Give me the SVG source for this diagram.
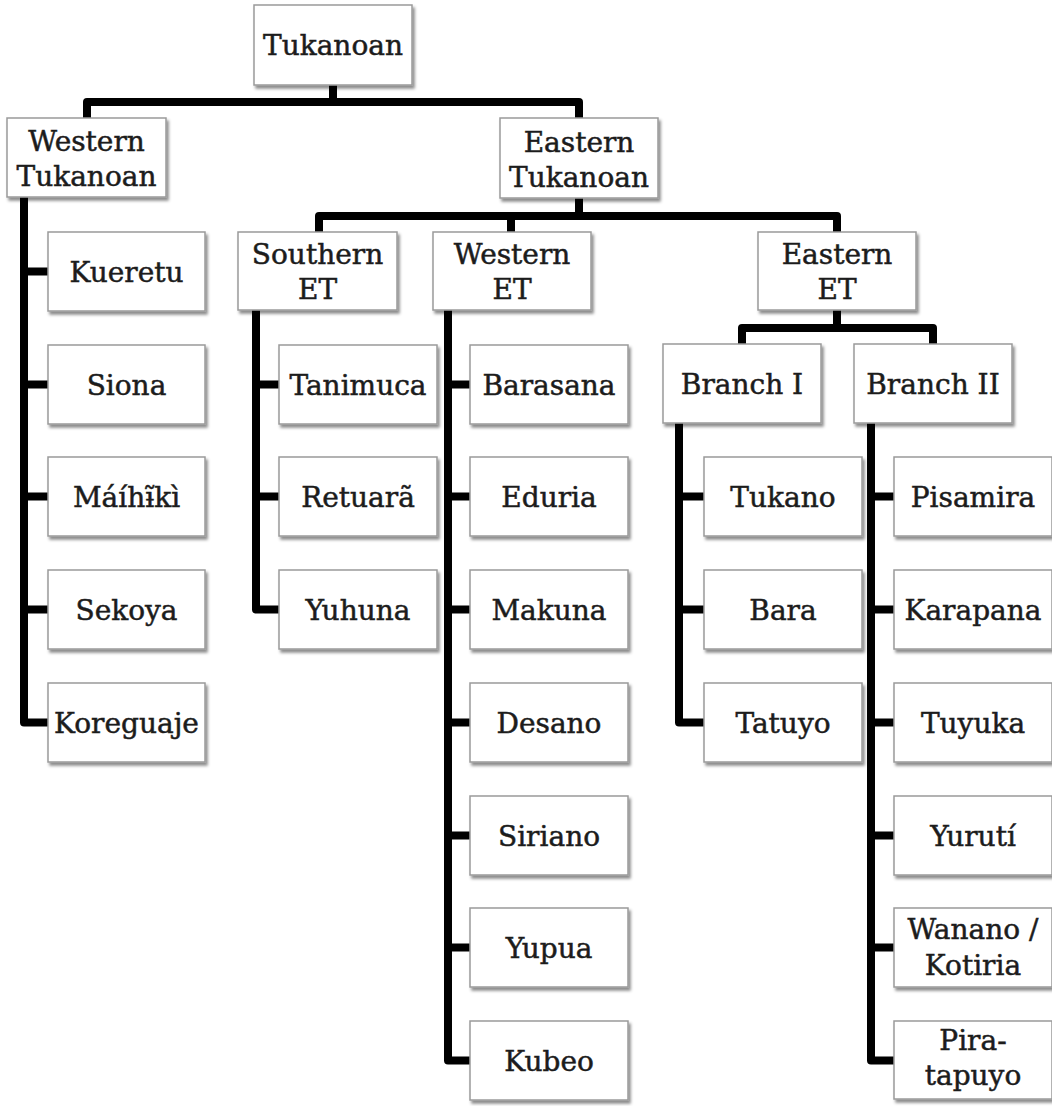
<svg xmlns="http://www.w3.org/2000/svg" width="1052" height="1106" viewBox="0 0 1052 1106">
<defs>
<filter id="sh" x="-10%" y="-10%" width="125%" height="130%">
<feDropShadow dx="2" dy="3" stdDeviation="1.8" flood-color="#000" flood-opacity="0.45"/>
</filter>
<style>
.box{fill:#fff;stroke:#9a9a9a;stroke-width:1.5;filter:url(#sh)}
.t{font-family:"DejaVu Serif","Liberation Serif",serif;font-size:28px;fill:#1c1c1c;stroke:#1c1c1c;stroke-width:0.5;text-anchor:middle}
.c{fill:none;stroke:#000;stroke-width:8;stroke-linejoin:round}
</style>
</defs>
<rect width="1052" height="1106" fill="#fff"/>
<g id="connectors">
<path class="c" d="M333 85V102M87 118V102H579V118"/>
<path class="c" d="M24 197V722.5H48M24 271.5H48M24 384.5H48M24 496.5H48M24 609.5H48"/>
<path class="c" d="M579 198V216M319 232V216H837V232M511 216V232"/>
<path class="c" d="M256 310V609.5H279M256 384.5H279M256 496.5H279"/>
<path class="c" d="M448 310V1060.5H470M448 384.5H470M448 496.5H470M448 609.5H470M448 722.5H470M448 835.5H470M448 947.5H470"/>
<path class="c" d="M837 310V328M742 344V328H933V344"/>
<path class="c" d="M679 423V722.5H704M679 496.5H704M679 609.5H704"/>
<path class="c" d="M871 423V1060.5H894M871 496.5H894M871 609.5H894M871 722.5H894M871 835.5H894M871 947.5H894"/>
</g>
<g id="n-tukanoan"><rect class="box" x="254" y="5" width="158" height="80"/><text class="t" x="333" y="55">Tukanoan</text></g>
<g id="n-western-tukanoan"><rect class="box" x="7" y="118" width="159" height="79"/><text class="t" x="86.5" y="151">Western</text><text class="t" x="86.5" y="186">Tukanoan</text></g>
<g id="n-eastern-tukanoan"><rect class="box" x="500" y="118" width="158" height="80"/><text class="t" x="579" y="152">Eastern</text><text class="t" x="579" y="187">Tukanoan</text></g>
<g id="n-kueretu"><rect class="box" x="48" y="232" width="157" height="79"/><text class="t" x="126.5" y="281.5">Kueretu</text></g>
<g id="n-siona"><rect class="box" x="48" y="345" width="157" height="79"/><text class="t" x="126.5" y="394.5">Siona</text></g>
<g id="n-maihiki"><rect class="box" x="48" y="457" width="157" height="79"/><text class="t" x="126.5" y="506.5">Máíhɨ̃kì</text></g>
<g id="n-sekoya"><rect class="box" x="48" y="570" width="157" height="79"/><text class="t" x="126.5" y="619.5">Sekoya</text></g>
<g id="n-koreguaje"><rect class="box" x="48" y="683" width="157" height="79"/><text class="t" x="126.5" y="732.5">Koreguaje</text></g>
<g id="n-southern-et"><rect class="box" x="238" y="232" width="159" height="78"/><text class="t" x="317.5" y="264">Southern</text><text class="t" x="317.5" y="299">ET</text></g>
<g id="n-western-et"><rect class="box" x="433" y="232" width="158" height="78"/><text class="t" x="512" y="264">Western</text><text class="t" x="512" y="299">ET</text></g>
<g id="n-eastern-et"><rect class="box" x="758" y="232" width="158" height="78"/><text class="t" x="837" y="264">Eastern</text><text class="t" x="837" y="299">ET</text></g>
<g id="n-tanimuca"><rect class="box" x="279" y="345" width="158" height="79"/><text class="t" x="358" y="394.5">Tanimuca</text></g>
<g id="n-retuara"><rect class="box" x="279" y="457" width="158" height="79"/><text class="t" x="358" y="506.5">Retuarã</text></g>
<g id="n-yuhuna"><rect class="box" x="279" y="570" width="158" height="79"/><text class="t" x="358" y="619.5">Yuhuna</text></g>
<g id="n-barasana"><rect class="box" x="470" y="345" width="158" height="79"/><text class="t" x="549" y="394.5">Barasana</text></g>
<g id="n-eduria"><rect class="box" x="470" y="457" width="158" height="79"/><text class="t" x="549" y="506.5">Eduria</text></g>
<g id="n-makuna"><rect class="box" x="470" y="570" width="158" height="79"/><text class="t" x="549" y="619.5">Makuna</text></g>
<g id="n-desano"><rect class="box" x="470" y="683" width="158" height="79"/><text class="t" x="549" y="732.5">Desano</text></g>
<g id="n-siriano"><rect class="box" x="470" y="796" width="158" height="79"/><text class="t" x="549" y="845.5">Siriano</text></g>
<g id="n-yupua"><rect class="box" x="470" y="908" width="158" height="79"/><text class="t" x="549" y="957.5">Yupua</text></g>
<g id="n-kubeo"><rect class="box" x="470" y="1021" width="158" height="79"/><text class="t" x="549" y="1070.5">Kubeo</text></g>
<g id="n-branch-1"><rect class="box" x="663" y="344" width="158" height="79"/><text class="t" x="742" y="393.5">Branch I</text></g>
<g id="n-branch-2"><rect class="box" x="854" y="344" width="158" height="79"/><text class="t" x="933" y="393.5">Branch II</text></g>
<g id="n-tukano"><rect class="box" x="704" y="457" width="158" height="79"/><text class="t" x="783" y="506.5">Tukano</text></g>
<g id="n-bara"><rect class="box" x="704" y="570" width="158" height="79"/><text class="t" x="783" y="619.5">Bara</text></g>
<g id="n-tatuyo"><rect class="box" x="704" y="683" width="158" height="79"/><text class="t" x="783" y="732.5">Tatuyo</text></g>
<g id="n-pisamira"><rect class="box" x="894" y="457" width="158" height="79"/><text class="t" x="973" y="506.5">Pisamira</text></g>
<g id="n-karapana"><rect class="box" x="894" y="570" width="158" height="79"/><text class="t" x="973" y="619.5">Karapana</text></g>
<g id="n-tuyuka"><rect class="box" x="894" y="683" width="158" height="79"/><text class="t" x="973" y="732.5">Tuyuka</text></g>
<g id="n-yuruti"><rect class="box" x="894" y="796" width="158" height="79"/><text class="t" x="973" y="845.5">Yurutí</text></g>
<g id="n-wanano"><rect class="box" x="894" y="908" width="158" height="79"/><text class="t" x="973" y="939">Wanano /</text><text class="t" x="973" y="975">Kotiria</text></g>
<g id="n-piratapuyo"><rect class="box" x="894" y="1021" width="158" height="78"/><text class="t" x="973" y="1050">Pira-</text><text class="t" x="973" y="1085">tapuyo</text></g>
</svg>
